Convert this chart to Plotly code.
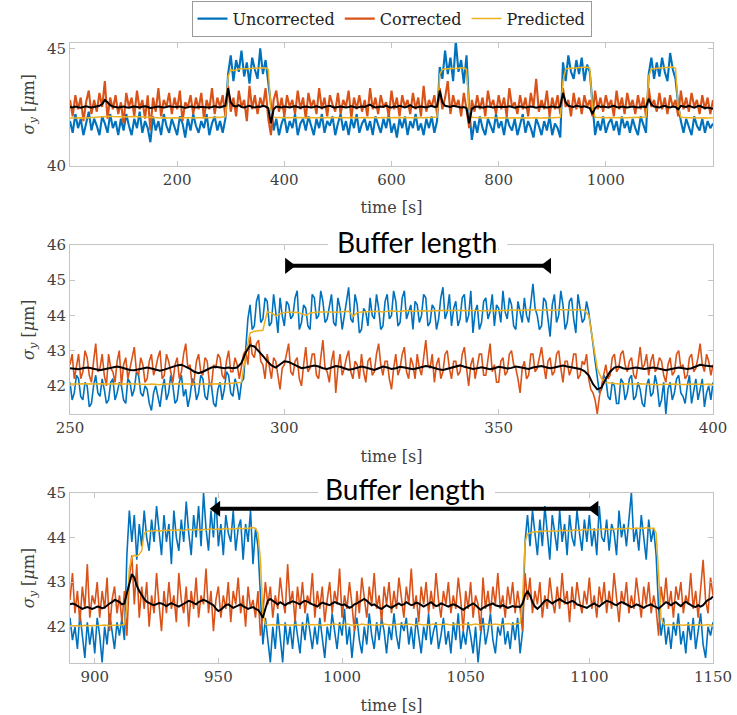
import plotly.graph_objects as go
from plotly.subplots import make_subplots

# ---------------- top panel (full record, 5 s samples) ----------------
t_top = list(range(0, 1201, 5))
top_uncorrected = [
    41.9, 41.4, 42.2, 41.6, 42.0, 41.3, 41.8, 42.3, 41.5, 42.0,
    41.7, 41.3, 42.1, 41.8, 41.4, 42.2, 41.6, 41.9, 41.3, 42.0,
    41.5, 42.2, 41.7, 41.3, 42.0, 41.6, 42.3, 41.4, 41.9, 41.6,
    41.0, 42.1, 41.5, 41.9, 41.3, 42.2, 41.7, 41.4, 42.0, 41.6,
    41.3, 42.1, 41.8, 41.2, 42.0, 41.5, 42.2, 41.7, 41.4, 41.9,
    41.6, 42.2, 41.3, 41.8, 42.1, 41.5, 41.9, 41.4, 42.0, 43.9,
    44.7, 43.6, 44.5, 44.0, 44.9, 43.8, 44.4, 43.5, 44.6, 44.1,
    43.7, 45.0, 43.9, 44.5, 43.6, 42.6, 41.5, 42.0, 41.3, 41.8,
    42.1, 41.4, 41.9, 41.6, 42.2, 41.3, 41.8, 42.0, 41.5, 42.1,
    41.7, 41.3, 42.0, 41.6, 42.2, 41.4, 41.9, 41.7, 42.1, 41.3,
    41.8, 42.2, 41.5, 41.9, 41.3, 42.0, 41.6, 42.2, 41.4, 41.8,
    42.0, 41.5, 41.9, 41.3, 42.1, 41.7, 41.4, 42.0, 41.6, 42.2,
    41.4, 41.8, 41.2, 42.0, 41.6, 42.1, 41.3, 41.9, 41.6, 42.2,
    41.5, 41.8, 41.3, 42.0, 41.6, 42.1, 41.4, 41.9, 44.2, 43.7,
    44.9, 43.9, 44.6, 43.6, 45.3, 44.0, 44.5, 43.5, 44.7, 42.4,
    41.1, 41.9, 41.4, 42.1, 41.6, 41.3, 42.0, 41.7, 41.4, 42.2,
    41.6, 41.9, 41.3, 42.1, 41.7, 41.5, 42.0, 41.3, 41.8, 42.2,
    41.4, 41.9, 41.6, 41.2, 42.0, 41.7, 41.3, 41.9, 41.5, 42.1,
    41.3, 41.8, 41.6, 41.2, 44.4, 43.6, 44.7, 44.0, 43.7, 44.5,
    43.9, 44.6, 43.6, 44.3, 44.0, 42.5, 41.3, 41.9, 41.5, 42.1,
    41.4, 41.8, 42.0, 41.5, 41.9, 41.3, 42.1, 41.6, 41.9, 41.4,
    42.0, 41.6, 41.3, 42.1, 41.7, 41.4, 43.9, 44.6, 43.7, 44.4,
    43.8, 44.6, 44.0, 43.6, 44.8, 44.1, 43.7, 42.6, 41.9, 41.4,
    42.0, 41.6, 41.3, 42.1, 41.7, 41.5, 42.0, 41.4, 41.9, 41.6,
    41.8]
top_corrected = [
    42.8, 42.1, 43.0, 42.4, 42.9, 41.9, 42.7, 43.2, 42.2, 42.8,
    42.3, 43.1, 42.5, 43.6, 42.0, 42.9, 42.4, 43.0, 42.2, 42.7,
    41.8, 43.1, 42.5, 42.9, 42.1, 43.2, 42.4, 42.8, 42.0, 43.0,
    41.5, 42.9, 42.3, 43.3, 42.1, 42.8, 42.5, 43.1, 42.2, 42.9,
    42.4, 43.2, 41.9, 42.7, 42.5, 43.0, 42.2, 42.9, 42.4, 43.1,
    42.0, 42.8, 42.4, 43.3, 42.2, 42.9, 42.5, 43.0, 42.1, 43.4,
    42.3, 42.9, 42.1, 43.2, 42.5, 42.8, 41.9, 43.4, 42.4, 43.0,
    42.2, 42.9, 42.5, 43.3, 42.0, 41.3, 42.8, 43.2, 42.3, 42.9,
    42.1, 43.0, 42.5, 42.8, 42.2, 43.2, 42.4, 42.9, 42.0, 43.1,
    42.5, 42.8, 42.2, 43.3, 42.4, 42.9, 42.1, 43.0, 42.6, 42.3,
    43.1, 42.2, 42.8, 42.5, 43.2, 42.0, 42.9, 42.4, 43.0, 42.3,
    42.8, 42.1, 43.3, 42.4, 42.9, 42.2, 43.0, 42.5, 42.7, 42.1,
    43.2, 42.4, 42.9, 42.1, 43.0, 42.5, 42.8, 42.2, 43.1, 42.4,
    42.9, 42.1, 43.4, 42.3, 42.8, 42.5, 43.0, 42.2, 43.3, 42.4,
    42.9, 43.6, 42.2, 43.0, 42.5, 42.8, 42.1, 43.1, 42.4, 41.6,
    42.8, 42.3, 43.0, 42.4, 42.9, 42.1, 43.2, 42.5, 42.8, 42.2,
    43.0, 42.4, 42.9, 42.1, 43.3, 42.5, 42.7, 42.2, 43.0, 42.4,
    42.9, 42.1, 43.1, 42.5, 43.7, 42.3, 42.8, 42.4, 43.2, 42.1,
    42.9, 42.4, 43.0, 42.2, 43.3, 42.5, 42.8, 42.1, 43.1, 42.4,
    42.9, 42.2, 43.0, 42.5, 42.8, 42.1, 43.2, 42.4, 42.9, 42.3,
    43.0, 42.5, 42.8, 42.1, 43.2, 42.4, 42.9, 42.2, 43.1, 42.5,
    42.8, 42.2, 43.0, 42.4, 42.9, 42.1, 43.3, 42.5, 42.8, 42.3,
    43.1, 42.4, 42.9, 42.2, 43.0, 42.5, 42.8, 42.1, 43.2, 42.4,
    42.9, 42.3, 43.1, 42.5, 42.8, 42.2, 43.0, 42.4, 42.9, 42.2,
    42.8]
top_predicted = [
    42.03, 42.02, 42.03, 42.04, 42.03, 42.02, 42.03, 42.04, 42.05, 42.04,
    42.05, 42.06, 42.07, 42.08, 42.09, 42.10, 42.09, 42.08, 42.07, 42.06,
    42.06, 42.07, 42.08, 42.09, 42.10, 42.09, 42.08, 42.07, 42.06, 42.05,
    42.04, 42.04, 42.03, 42.04, 42.03, 42.04, 42.03, 42.02, 42.03, 42.04,
    42.03, 42.04, 42.03, 42.04, 42.05, 42.04, 42.03, 42.04, 42.03, 42.04,
    42.05, 42.04, 42.05, 42.04, 42.05, 42.06, 42.05, 42.06, 42.10, 43.80,
    44.10, 44.05, 44.10, 44.12, 44.13, 44.12, 44.14, 44.13, 44.15, 44.14,
    44.15, 44.16, 44.15, 44.17, 44.10, 42.40, 42.06, 42.05, 42.04, 42.05,
    42.04, 42.05, 42.04, 42.03, 42.04, 42.05, 42.04, 42.03, 42.04, 42.05,
    42.04, 42.03, 42.04, 42.05, 42.04, 42.03, 42.04, 42.05, 42.04, 42.03,
    42.04, 42.05, 42.04, 42.03, 42.04, 42.05, 42.04, 42.03, 42.04, 42.05,
    42.04, 42.03, 42.04, 42.05, 42.04, 42.03, 42.04, 42.05, 42.04, 42.03,
    42.04, 42.05, 42.04, 42.03, 42.04, 42.05, 42.04, 42.03, 42.04, 42.05,
    42.04, 42.03, 42.04, 42.05, 42.04, 42.05, 42.06, 42.07, 43.90, 44.10,
    44.12, 44.14, 44.13, 44.15, 44.14, 44.16, 44.15, 44.17, 44.10, 42.40,
    42.06, 42.05, 42.04, 42.05, 42.04, 42.03, 42.04, 42.05, 42.04, 42.03,
    42.04, 42.05, 42.04, 42.03, 42.04, 42.05, 42.04, 42.03, 42.04, 42.05,
    42.04, 42.03, 42.04, 42.05, 42.04, 42.03, 42.04, 42.05, 42.04, 42.03,
    42.04, 42.05, 42.04, 42.06, 43.60, 44.12, 44.14, 44.15, 44.16, 44.17,
    44.18, 44.19, 44.20, 44.20, 44.15, 42.50, 42.06, 42.05, 42.04, 42.05,
    42.04, 42.05, 42.04, 42.05, 42.04, 42.05, 42.04, 42.05, 42.04, 42.05,
    42.06, 42.05, 42.06, 42.05, 42.06, 42.07, 43.80, 44.12, 44.14, 44.15,
    44.16, 44.17, 44.18, 44.19, 44.20, 44.20, 44.15, 42.50, 42.06, 42.04,
    42.05, 42.04, 42.05, 42.04, 42.03, 42.04, 42.05, 42.04, 42.03, 42.04,
    42.04]
top_mean = [
    42.50, 42.48, 42.52, 42.50, 42.47, 42.50, 42.53, 42.50, 42.48, 42.50,
    42.52, 42.55, 42.62, 42.80, 42.70, 42.58, 42.52, 42.50, 42.48, 42.50,
    42.52, 42.49, 42.47, 42.50, 42.52, 42.50, 42.48, 42.51, 42.53, 42.50,
    42.46, 42.48, 42.50, 42.52, 42.50, 42.48, 42.50, 42.53, 42.51, 42.49,
    42.50, 42.52, 42.50, 42.47, 42.49, 42.52, 42.50, 42.48, 42.51, 42.50,
    42.52, 42.50, 42.48, 42.50, 42.53, 42.50, 42.48, 42.52, 42.55, 43.30,
    42.70, 42.55, 42.52, 42.58, 42.50, 42.48, 42.52, 42.55, 42.50, 42.48,
    42.52, 42.50, 42.55, 42.52, 42.45, 41.80, 42.40, 42.52, 42.50, 42.48,
    42.52, 42.50, 42.48, 42.51, 42.53, 42.50, 42.47, 42.50, 42.52, 42.50,
    42.48, 42.50, 42.53, 42.50, 42.47, 42.50, 42.52, 42.55, 42.50, 42.48,
    42.50, 42.52, 42.50, 42.48, 42.50, 42.53, 42.50, 42.47, 42.50, 42.52,
    42.50, 42.55, 42.60, 42.52, 42.48, 42.50, 42.52, 42.50, 42.56, 42.50,
    42.48, 42.52, 42.50, 42.55, 42.50, 42.48, 42.52, 42.58, 42.50, 42.47,
    42.50, 42.52, 42.50, 42.48, 42.52, 42.55, 42.50, 42.52, 43.20, 42.70,
    42.55, 42.52, 42.50, 42.55, 42.52, 42.50, 42.48, 42.50, 42.45, 41.80,
    42.42, 42.50, 42.52, 42.50, 42.48, 42.50, 42.52, 42.50, 42.48, 42.51,
    42.50, 42.52, 42.48, 42.50, 42.53, 42.50, 42.47, 42.50, 42.52, 42.50,
    42.48, 42.50, 42.52, 42.50, 42.47, 42.50, 42.52, 42.50, 42.48, 42.50,
    42.52, 42.50, 42.48, 42.52, 43.10, 42.70, 42.55, 42.52, 42.50, 42.55,
    42.52, 42.50, 42.53, 42.50, 42.45, 42.20, 42.45, 42.55, 42.50, 42.52,
    42.50, 42.48, 42.52, 42.55, 42.50, 42.48, 42.52, 42.50, 42.48, 42.50,
    42.52, 42.50, 42.48, 42.50, 42.52, 42.50, 42.85, 42.60, 42.52, 42.50,
    42.48, 42.52, 42.55, 42.50, 42.48, 42.52, 42.50, 42.40, 42.55, 42.52,
    42.50, 42.55, 42.50, 42.47, 42.52, 42.55, 42.50, 42.45, 42.48, 42.45,
    42.42]

# ---------------- middle panel (250-400 s) ----------------
# raw signals at 0.5 s, prediction and running mean at 1 s
t_mid_fine = [250 + 0.5 * k for k in range(301)]
t_mid = list(range(250, 401))
mid_uncorrected = [
    42.1, 41.6, 41.8, 42.3, 42.2, 41.7, 41.6, 42.1, 42.0, 41.4,
    41.5, 42.0, 42.3, 41.8, 41.7, 42.2, 41.9, 41.5, 41.6, 42.1,
    42.2, 41.6, 41.8, 42.1, 42.0, 41.6, 41.5, 42.2, 42.1, 41.7,
    41.9, 42.4, 42.3, 41.8, 41.7, 42.0, 41.9, 41.5, 41.3, 41.8,
    42.0, 41.7, 41.4, 41.9, 42.2, 41.6, 41.8, 42.3, 42.0, 41.5,
    41.6, 42.1, 42.3, 41.7, 41.9, 41.4, 41.7, 42.2, 42.1, 41.6,
    41.8, 42.3, 42.2, 41.7, 41.6, 42.1, 42.0, 41.5, 41.4, 41.9,
    42.1, 41.6, 41.9, 42.4, 42.3, 41.8, 41.7, 42.2, 42.0, 41.6,
    42.1, 42.2, 43.2, 43.9, 44.3, 43.6, 43.7, 44.4, 44.6, 43.8,
    43.9, 44.5, 44.4, 43.7, 43.8, 44.6, 44.1, 43.5, 44.5, 44.0,
    43.7, 44.4, 44.3, 43.9, 44.0, 44.5, 44.7, 43.6, 43.8, 44.3,
    44.2, 43.7, 43.6, 44.6, 44.5, 43.9, 44.0, 44.7, 44.4, 43.8,
    43.9, 44.3, 44.6, 43.8, 43.7, 44.5, 44.2, 43.6, 44.0, 44.4,
    44.8, 43.9, 43.8, 44.6, 44.3, 43.5, 43.6, 44.2, 44.1, 43.7,
    44.5, 44.0, 43.9, 44.6, 44.2, 43.6, 43.7, 44.4, 44.6, 43.9,
    44.0, 44.7, 44.4, 43.7, 43.8, 44.5, 44.7, 43.9, 44.1, 44.3,
    43.6, 44.4, 44.3, 43.8, 44.0, 44.6, 44.5, 43.7, 43.8, 44.3,
    44.2, 43.6, 43.9, 44.5, 44.8, 43.9, 44.1, 44.6, 43.7, 44.2,
    44.4, 43.7, 43.9, 44.5, 44.6, 43.8, 44.0, 44.7, 43.5, 44.1,
    44.3, 43.6, 43.8, 44.4, 44.5, 43.9, 44.1, 44.6, 43.7, 44.3,
    44.2, 43.8, 44.7, 44.1, 43.9, 44.5, 44.3, 43.7, 43.6, 44.4,
    44.1, 43.8, 44.5, 44.0, 43.8, 44.4, 44.9, 44.2, 44.0, 43.6,
    43.7, 44.5, 44.4, 43.9, 43.4, 44.3, 44.6, 43.8, 44.0, 44.7,
    44.3, 43.6, 43.8, 44.4, 44.5, 43.9, 43.5, 44.6, 44.2, 43.8,
    43.9, 44.4, 44.1, 43.7, 43.2, 42.7, 42.3, 41.8, 41.9, 42.3,
    42.2, 41.7, 41.6, 42.1, 42.0, 41.5, 41.5, 42.2, 42.1, 41.6,
    41.8, 42.2, 42.3, 41.6, 41.7, 42.1, 41.9, 41.5, 41.4, 42.0,
    42.2, 41.7, 41.8, 42.3, 42.0, 41.4, 41.6, 42.1, 41.2, 41.9,
    42.1, 41.6, 41.8, 42.2, 42.3, 41.8, 41.7, 41.5, 42.0, 42.3,
    41.5, 41.9, 42.2, 41.6, 41.9, 42.2, 41.4, 41.8, 42.0, 41.6,
    42.1]
mid_corrected = [
    42.6, 42.9, 42.2, 42.5, 42.9, 42.2, 42.4, 43.0, 42.8, 42.3,
    42.1, 42.7, 43.2, 42.4, 42.5, 42.9, 42.3, 42.0, 42.9, 42.5,
    42.4, 42.1, 42.7, 43.0, 42.0, 42.6, 42.8, 42.2, 42.5, 42.9,
    43.1, 42.4, 42.3, 42.8, 42.6, 42.1, 42.2, 42.7, 42.9, 42.3,
    42.5, 42.8, 43.0, 42.2, 42.3, 42.9, 42.7, 42.4, 42.1, 42.6,
    42.8, 42.2, 42.4, 42.9, 43.2, 42.5, 42.6, 42.0, 42.2, 42.7,
    42.9, 42.4, 42.3, 42.8, 42.7, 42.1, 42.0, 42.6, 42.5, 42.9,
    42.8, 42.3, 42.2, 42.7, 43.0, 42.4, 42.4, 42.8, 42.6, 42.2,
    42.5, 42.9, 43.0, 42.6, 43.4, 42.9, 42.8, 43.2, 43.3, 42.7,
    42.6, 42.2, 42.9, 42.5, 42.2, 42.8, 42.7, 42.3, 41.9, 42.5,
    42.6, 42.9, 43.2, 42.4, 42.3, 42.7, 42.8, 42.2, 42.0, 42.6,
    43.1, 42.4, 42.5, 42.9, 42.9, 42.3, 42.2, 42.8, 43.3, 42.5,
    42.4, 42.1, 42.7, 43.0, 41.8, 42.5, 42.9, 42.3, 42.5, 42.8,
    43.0, 42.4, 42.2, 42.7, 42.6, 42.2, 42.9, 42.4, 42.1, 42.7,
    42.8, 42.3, 42.4, 42.9, 43.2, 42.6, 42.3, 42.7, 42.7, 42.2,
    41.9, 42.5, 42.9, 42.3, 42.5, 42.9, 43.1, 42.4, 42.2, 42.8,
    42.6, 42.2, 42.9, 42.5, 42.3, 42.8, 43.3, 42.6, 42.5, 42.9,
    42.1, 42.6, 42.8, 42.2, 42.4, 42.9, 43.0, 42.5, 42.2, 42.7,
    42.7, 42.3, 42.4, 42.9, 43.1, 42.5, 42.0, 42.6, 42.8, 42.2,
    42.5, 42.9, 42.9, 42.3, 42.3, 42.8, 43.2, 42.4, 42.6, 42.1,
    42.1, 42.7, 42.8, 42.3, 42.4, 42.9, 43.0, 42.6, 42.5, 42.2,
    41.8, 42.5, 42.7, 42.2, 42.3, 42.9, 42.9, 42.4, 42.5, 42.8,
    43.1, 42.6, 42.2, 42.7, 42.8, 42.3, 42.4, 42.9, 43.0, 42.5,
    42.1, 42.7, 42.7, 42.3, 42.5, 42.9, 42.9, 42.2, 42.3, 42.7,
    42.6, 42.9, 42.2, 41.9, 41.8, 41.6, 41.2, 41.7, 42.0, 42.4,
    42.6, 42.2, 42.3, 42.8, 42.9, 42.4, 42.5, 42.9, 43.0, 42.6,
    42.4, 42.7, 42.8, 42.3, 42.2, 42.6, 43.1, 42.5, 42.6, 42.9,
    42.3, 42.7, 42.9, 42.4, 42.5, 42.8, 42.7, 42.3, 42.1, 42.6,
    42.8, 42.3, 42.4, 42.9, 43.0, 42.5, 42.6, 42.2, 42.3, 42.8,
    42.9, 42.4, 42.5, 42.8, 43.2, 42.6, 42.4, 42.9, 42.7, 42.3,
    42.6]
mid_predicted = [
    42.05, 42.04, 42.05, 42.06, 42.05, 42.04, 42.05, 42.06, 42.05, 42.05,
    42.06, 42.05, 42.04, 42.05, 42.06, 42.05, 42.04, 42.03, 42.04, 42.05,
    42.04, 42.03, 42.05, 42.04, 42.05, 42.06, 42.05, 42.04, 42.05, 42.05,
    42.06, 42.05, 42.05, 42.06, 42.05, 42.06, 42.05, 42.06, 42.07, 42.08,
    42.10, 42.90, 43.50, 43.55, 43.56, 43.58, 44.10, 44.08, 43.98, 44.05,
    44.08, 44.10, 44.08, 44.09, 44.05, 44.00, 44.07, 44.09, 44.10, 44.10,
    44.11, 44.10, 44.09, 44.10, 44.11, 44.12, 43.98, 44.08, 44.10, 44.11,
    44.12, 44.11, 44.12, 44.10, 44.12, 44.13, 44.12, 44.11, 44.13, 44.14,
    44.12, 44.13, 44.14, 44.13, 44.12, 44.14, 44.13, 44.15, 44.14, 44.13,
    44.14, 44.15, 44.13, 44.14, 44.15, 44.14, 44.13, 44.14, 44.15, 44.14,
    44.13, 44.15, 44.14, 44.16, 44.15, 44.14, 44.15, 44.16, 44.15, 44.14,
    44.15, 44.16, 44.15, 44.14, 44.16, 44.17, 44.16, 44.15, 44.17, 44.16,
    44.15, 44.00, 43.30, 42.50, 42.20, 42.10, 42.08, 42.06, 42.05, 42.06,
    42.05, 42.04, 42.05, 42.06, 42.05, 42.04, 42.05, 42.03, 42.04, 42.05,
    42.06, 42.05, 42.04, 42.03, 42.04, 42.05, 42.04, 42.03, 42.04, 42.05,
    42.04]
mid_mean = [
    42.50, 42.48, 42.47, 42.50, 42.52, 42.50, 42.46, 42.44, 42.47, 42.50,
    42.53, 42.55, 42.52, 42.48, 42.45, 42.44, 42.47, 42.50, 42.52, 42.49,
    42.45, 42.43, 42.46, 42.50, 42.55, 42.58, 42.60, 42.55, 42.48, 42.40,
    42.36, 42.40, 42.47, 42.52, 42.54, 42.52, 42.50, 42.52, 42.50, 42.52,
    42.65, 42.95, 43.15, 43.12, 43.00, 42.85, 42.70, 42.58, 42.52, 42.62,
    42.70, 42.68, 42.62, 42.55, 42.50, 42.52, 42.56, 42.58, 42.55, 42.50,
    42.48, 42.52, 42.56, 42.54, 42.50, 42.46, 42.48, 42.52, 42.55, 42.52,
    42.48, 42.45, 42.50, 42.55, 42.52, 42.48, 42.50, 42.54, 42.52, 42.49,
    42.47, 42.50, 42.53, 42.56, 42.54, 42.50, 42.47, 42.45, 42.48, 42.52,
    42.55, 42.58, 42.54, 42.50, 42.48, 42.50, 42.53, 42.50, 42.47, 42.50,
    42.54, 42.52, 42.49, 42.51, 42.55, 42.53, 42.50, 42.48, 42.52, 42.55,
    42.56, 42.53, 42.50, 42.52, 42.55, 42.58, 42.55, 42.52, 42.50, 42.48,
    42.42, 42.30, 42.05, 41.90, 41.95, 42.20, 42.40, 42.52, 42.55, 42.50,
    42.48, 42.50, 42.52, 42.50, 42.48, 42.50, 42.52, 42.50, 42.46, 42.44,
    42.47, 42.50, 42.52, 42.50, 42.48, 42.50, 42.55, 42.60, 42.58, 42.56,
    42.55]

# ---------------- bottom panel (890-1150 s, 1 s samples) ----------------
t_bot = list(range(890, 1151))
bot_uncorrected = [
    42.2, 41.7, 42.0, 41.5, 42.3, 41.8, 41.3, 42.1, 41.6, 42.0,
    41.4, 42.2, 41.8, 41.2, 42.0, 41.6, 42.3, 41.9, 41.5, 42.1,
    41.8, 42.2, 41.7, 43.6, 44.6, 43.9, 44.5, 43.5, 44.3, 43.8,
    44.6, 44.0, 43.7, 44.4, 43.9, 44.7, 44.1, 43.6, 44.5, 43.9,
    44.3, 43.4, 44.6, 44.0, 43.7, 44.4, 43.9, 44.8, 44.1, 43.6,
    44.5, 44.0, 44.7, 43.8, 45.0, 44.2, 43.7, 44.6, 44.0, 44.9,
    43.8, 44.3, 43.6, 44.5, 44.1, 43.9, 44.6, 43.7, 44.2, 44.4,
    43.5, 44.3, 43.9, 44.6, 43.4, 44.2, 43.8, 42.6, 41.6, 42.2,
    41.7, 41.2, 42.0, 41.5, 42.3, 41.8, 41.2, 42.1, 41.6, 42.0,
    41.5, 42.2, 41.8, 41.4, 42.1, 41.7, 42.3, 41.9, 41.5, 42.0,
    41.6, 42.2, 41.8, 41.3, 42.0, 41.7, 42.3, 41.9, 41.5, 42.1,
    41.8, 42.4, 41.6, 42.0, 41.3, 41.9, 42.2, 41.7, 41.4, 42.0,
    41.6, 42.3, 41.8, 41.5, 42.1, 41.7, 42.2, 41.9, 41.4, 42.0,
    41.7, 42.3, 41.8, 41.5, 42.1, 41.9, 42.2, 41.6, 42.0, 41.5,
    42.2, 41.8, 41.4, 42.0, 41.7, 42.3, 41.6, 41.9, 42.1, 41.5,
    41.8, 42.2, 41.6, 41.9, 41.4, 42.1, 41.7, 42.3, 41.5, 41.9,
    41.6, 42.1, 41.8, 41.4, 42.0, 41.2, 41.8, 42.2, 41.6, 41.9,
    42.3, 41.7, 41.4, 42.0, 41.8, 42.2, 41.6, 41.9, 41.5, 42.1,
    41.7, 42.2, 41.4, 41.9, 43.9, 44.5, 43.8, 44.6, 44.1, 43.6,
    44.4, 43.8, 44.7, 44.0, 43.5, 44.5, 44.1, 43.7, 44.6, 43.9,
    44.3, 43.6, 44.5, 44.0, 43.8, 44.6, 44.1, 43.7, 44.4, 43.9,
    44.5, 43.8, 44.2, 43.6, 44.7, 44.0, 43.9, 44.4, 43.7, 44.3,
    44.1, 43.6, 44.6, 44.0, 44.3, 43.8, 44.4, 45.0, 43.9, 44.2,
    43.7, 44.5, 44.0, 43.5, 44.4, 43.9, 44.2, 43.6, 42.4, 41.8,
    42.2, 41.6, 42.0, 41.5, 42.1, 41.8, 42.3, 41.6, 41.9, 41.4,
    42.1, 41.7, 42.2, 41.5, 41.9, 42.3, 41.6, 41.3, 42.0, 41.8,
    42.1]
bot_corrected = [
    42.6, 43.2, 42.3, 42.8, 42.1, 42.9, 42.4, 43.4, 42.2, 42.7,
    42.5, 43.0, 42.2, 42.8, 42.4, 43.1, 41.9, 42.6, 42.9, 42.3,
    42.7, 42.1, 42.8, 41.8, 43.1, 43.6, 42.5, 43.4, 42.2, 42.9,
    42.4, 43.0, 42.0, 42.7, 42.3, 43.2, 42.5, 41.9, 42.8, 42.3,
    43.0, 42.4, 42.7, 42.1, 43.2, 42.6, 42.3, 42.9, 42.0, 42.8,
    42.4, 43.1, 42.2, 42.7, 42.5, 43.3, 42.3, 42.8, 41.9, 42.6,
    42.9, 42.2, 42.7, 42.4, 43.0, 42.1, 42.8, 42.5, 43.1, 42.3,
    42.7, 42.0, 42.9, 42.4, 42.6, 42.2, 42.8, 41.8, 42.3, 43.0,
    42.5, 42.9, 42.2, 42.7, 42.4, 43.1, 42.6, 42.3, 43.4, 42.5,
    42.8, 42.1, 42.9, 42.4, 43.0, 42.3, 42.7, 42.5, 43.2, 42.2,
    42.8, 42.4, 42.9, 42.1, 42.6, 43.0, 42.3, 42.8, 42.5, 43.3,
    42.2, 42.7, 42.4, 43.0, 42.5, 41.9, 42.8, 42.3, 43.1, 42.6,
    42.2, 42.9, 42.5, 43.2, 42.4, 42.7, 42.1, 42.9, 42.5, 43.0,
    42.3, 42.8, 42.4, 43.1, 42.6, 42.2, 42.9, 42.5, 43.3, 42.4,
    42.7, 42.1, 42.9, 42.5, 43.0, 42.3, 42.8, 42.4, 43.2, 42.6,
    42.2, 42.8, 42.5, 43.0, 42.3, 42.7, 42.4, 43.1, 42.6, 41.9,
    42.8, 42.4, 43.0, 42.2, 42.7, 42.5, 41.9, 43.1, 42.4, 42.8,
    42.3, 42.9, 42.5, 43.2, 42.4, 42.7, 42.2, 42.9, 42.5, 43.0,
    42.3, 42.8, 42.4, 41.9, 43.2, 42.6, 43.1, 42.3, 42.8, 42.5,
    43.0, 42.2, 42.7, 42.4, 43.1, 42.6, 42.3, 42.9, 42.4, 43.2,
    42.5, 42.8, 42.1, 42.9, 42.4, 43.0, 42.6, 42.3, 42.8, 42.5,
    43.1, 42.4, 42.7, 42.2, 42.9, 42.5, 43.0, 42.3, 42.8, 42.4,
    43.2, 42.6, 42.1, 42.8, 42.5, 43.0, 42.3, 42.7, 42.4, 43.1,
    42.6, 42.2, 42.9, 42.5, 43.0, 42.3, 42.7, 42.4, 41.8, 42.9,
    42.5, 43.1, 42.4, 42.8, 42.2, 42.9, 42.6, 43.0, 42.3, 42.7,
    42.5, 43.2, 42.4, 42.8, 42.2, 42.9, 43.5, 42.6, 42.3, 43.1,
    42.7]
bot_predicted = [
    42.02, 42.02, 42.03, 42.02, 42.01, 42.02, 42.03, 42.02, 42.02, 42.03,
    42.02, 42.03, 42.02, 42.03, 42.04, 42.03, 42.02, 42.03, 42.03, 42.04,
    42.03, 42.04, 42.05, 42.40, 43.30, 43.55, 43.60, 43.58, 43.62, 43.70,
    44.10, 44.12, 44.15, 44.14, 44.15, 44.16, 44.14, 44.15, 44.16, 44.15,
    44.16, 44.17, 44.15, 44.16, 44.17, 44.16, 44.15, 44.17, 44.18, 44.17,
    44.16, 44.18, 44.17, 44.16, 44.18, 44.17, 44.18, 44.19, 44.17, 44.18,
    44.19, 44.18, 44.19, 44.20, 44.19, 44.18, 44.20, 44.19, 44.21, 44.20,
    44.19, 44.21, 44.20, 44.21, 44.22, 44.20, 44.10, 43.50, 42.30, 42.05,
    42.03, 42.04, 42.05, 42.04, 42.03, 42.05, 42.04, 42.05, 42.04, 42.03,
    42.04, 42.05, 42.04, 42.03, 42.04, 42.05, 42.06, 42.04, 42.05, 42.04,
    42.05, 42.04, 42.03, 42.04, 42.05, 42.04, 42.05, 42.06, 42.05, 42.04,
    42.04, 42.05, 42.06, 42.05, 42.03, 42.04, 42.05, 42.04, 42.06, 42.05,
    42.04, 42.05, 42.04, 42.03, 42.05, 42.04, 42.05, 42.06, 42.05, 42.04,
    42.05, 42.04, 42.05, 42.06, 42.05, 42.04, 42.05, 42.06, 42.05, 42.04,
    42.05, 42.06, 42.05, 42.04, 42.05, 42.04, 42.05, 42.06, 42.05, 42.05,
    42.04, 42.05, 42.06, 42.05, 42.04, 42.05, 42.06, 42.05, 42.04, 42.05,
    42.06, 42.05, 42.04, 42.05, 42.06, 42.05, 42.04, 42.05, 42.06, 42.05,
    42.04, 42.05, 42.06, 42.05, 42.04, 42.05, 42.06, 42.07, 42.06, 42.05,
    42.06, 42.07, 42.08, 42.60, 43.90, 44.08, 44.10, 44.12, 44.13, 44.12,
    44.14, 44.13, 44.15, 44.14, 44.13, 44.15, 44.14, 44.13, 44.15, 44.16,
    44.15, 44.16, 44.14, 44.15, 44.17, 44.16, 44.15, 44.17, 44.18, 44.16,
    44.17, 44.18, 44.16, 44.17, 44.18, 44.17, 44.19, 44.18, 44.17, 44.19,
    44.18, 44.19, 44.20, 44.18, 44.19, 44.20, 44.21, 44.19, 44.20, 44.21,
    44.20, 44.21, 44.20, 44.22, 44.21, 44.20, 44.21, 44.10, 43.20, 42.20,
    42.06, 42.04, 42.05, 42.04, 42.03, 42.04, 42.05, 42.04, 42.03, 42.04,
    42.05, 42.04, 42.03, 42.04, 42.05, 42.04, 42.03, 42.04, 42.05, 42.04,
    42.03]
bot_mean = [
    42.50, 42.52, 42.50, 42.46, 42.42, 42.40, 42.42, 42.44, 42.42, 42.40,
    42.42, 42.45, 42.44, 42.41, 42.43, 42.48, 42.52, 42.55, 42.60, 42.58,
    42.55, 42.50, 42.52, 42.75, 43.00, 43.18, 43.10, 42.92, 42.80, 42.70,
    42.62, 42.56, 42.52, 42.50, 42.48, 42.50, 42.53, 42.52, 42.48, 42.46,
    42.50, 42.53, 42.50, 42.47, 42.45, 42.48, 42.52, 42.55, 42.58, 42.56,
    42.52, 42.50, 42.55, 42.58, 42.60, 42.58, 42.55, 42.52, 42.48, 42.40,
    42.35, 42.38, 42.44, 42.48, 42.50, 42.46, 42.42, 42.45, 42.48, 42.50,
    42.46, 42.42, 42.40, 42.42, 42.44, 42.40, 42.38, 42.30, 42.20, 42.40,
    42.58, 42.62, 42.58, 42.52, 42.50, 42.55, 42.52, 42.48, 42.52, 42.55,
    42.57, 42.55, 42.52, 42.50, 42.55, 42.58, 42.56, 42.52, 42.50, 42.48,
    42.45, 42.50, 42.54, 42.52, 42.50, 42.48, 42.52, 42.55, 42.53, 42.50,
    42.48, 42.50, 42.46, 42.42, 42.45, 42.50, 42.52, 42.55, 42.58, 42.62,
    42.58, 42.52, 42.48, 42.50, 42.45, 42.42, 42.40, 42.44, 42.48, 42.45,
    42.42, 42.46, 42.50, 42.52, 42.48, 42.50, 42.55, 42.52, 42.48, 42.50,
    42.54, 42.52, 42.48, 42.45, 42.48, 42.52, 42.55, 42.50, 42.46, 42.48,
    42.52, 42.50, 42.47, 42.45, 42.48, 42.50, 42.48, 42.44, 42.40, 42.38,
    42.42, 42.46, 42.50, 42.52, 42.48, 42.42, 42.38, 42.42, 42.46, 42.48,
    42.50, 42.52, 42.48, 42.46, 42.45, 42.48, 42.45, 42.42, 42.44, 42.46,
    42.44, 42.45, 42.44, 42.52, 42.70, 42.80, 42.70, 42.55, 42.45, 42.40,
    42.45, 42.52, 42.58, 42.60, 42.56, 42.52, 42.56, 42.60, 42.62, 42.58,
    42.54, 42.52, 42.55, 42.58, 42.55, 42.50, 42.48, 42.46, 42.44, 42.42,
    42.46, 42.50, 42.52, 42.48, 42.45, 42.50, 42.55, 42.58, 42.56, 42.54,
    42.50, 42.48, 42.52, 42.55, 42.53, 42.50, 42.46, 42.44, 42.46, 42.50,
    42.48, 42.45, 42.42, 42.46, 42.48, 42.50, 42.46, 42.44, 42.40, 42.45,
    42.50, 42.55, 42.52, 42.48, 42.52, 42.55, 42.50, 42.46, 42.52, 42.56,
    42.52, 42.48, 42.45, 42.44, 42.48, 42.45, 42.48, 42.55, 42.60, 42.62,
    42.68]

# ---------------- buffer-length markers (data coords) ----------------
buffer_mid_t = [301.0, 361.4]
buffer_mid_y = [45.41, 45.41]
buffer_bot_t = [949.3, 1102.2]
buffer_bot_y = [44.64, 44.64]

series_names = ["Uncorrected", "Corrected", "Predicted"]
C_BLUE, C_ORANGE, C_YELLOW = "#0072BD", "#D95319", "#EDB120"

panels = [
    (t_top, t_top, top_uncorrected, top_corrected, top_predicted, top_mean, 2.1),
    (t_mid_fine, t_mid, mid_uncorrected, mid_corrected, mid_predicted, mid_mean, 1.6),
    (t_bot, t_bot, bot_uncorrected, bot_corrected, bot_predicted, bot_mean, 1.6),
]

fig = make_subplots(rows=3, cols=1)
for i, (tr, ts, u, c, p, m, lw) in enumerate(panels, start=1):
    first = (i == 1)
    fig.add_trace(go.Scatter(x=tr, y=u, mode="lines", name=series_names[0],
                             line=dict(color=C_BLUE, width=lw),
                             showlegend=first, legendgroup="u"), row=i, col=1)
    fig.add_trace(go.Scatter(x=tr, y=c, mode="lines", name=series_names[1],
                             line=dict(color=C_ORANGE, width=lw),
                             showlegend=first, legendgroup="c"), row=i, col=1)
    fig.add_trace(go.Scatter(x=ts, y=p, mode="lines", name=series_names[2],
                             line=dict(color=C_YELLOW, width=1.5),
                             showlegend=first, legendgroup="p"), row=i, col=1)
    fig.add_trace(go.Scatter(x=ts, y=m, mode="lines", name="mean",
                             line=dict(color="black", width=2),
                             showlegend=False), row=i, col=1)

fig.add_trace(go.Scatter(x=buffer_mid_t, y=buffer_mid_y, mode="lines+markers",
                         line=dict(color="black", width=4),
                         marker=dict(symbol=["triangle-right", "triangle-left"],
                                     size=14, color="black"),
                         showlegend=False), row=2, col=1)
fig.add_trace(go.Scatter(x=buffer_bot_t, y=buffer_bot_y, mode="lines+markers",
                         line=dict(color="black", width=4),
                         marker=dict(symbol=["triangle-left", "triangle-left"],
                                     size=14, color="black"),
                         showlegend=False), row=3, col=1)

SERIF = "DejaVu Serif"
AXC = "#c4c4c4"
TXT = "#404040"


def xstyle(rng, ticks, standoff):
    return dict(range=rng, tickvals=ticks, showline=True, linecolor=AXC, linewidth=1,
                mirror="ticks", ticks="inside", ticklen=5, tickcolor=AXC,
                showgrid=False, zeroline=False,
                tickfont=dict(family=SERIF, size=15, color=TXT),
                title=dict(text="time [s]", font=dict(family=SERIF, size=16, color=TXT),
                           standoff=standoff))


def ystyle(rng, ticks, dom):
    return dict(range=rng, tickvals=ticks, domain=dom, showline=True, linecolor=AXC,
                linewidth=1, mirror="ticks", ticks="inside", ticklen=5, tickcolor=AXC,
                showgrid=False, zeroline=False,
                tickfont=dict(family=SERIF, size=15, color=TXT),
                title=dict(text="<i>σ</i><sub><i>y</i></sub> [<i>μ</i>m]",
                           font=dict(family=SERIF, size=16, color=TXT), standoff=8))


# white patches where the "Buffer length" labels interrupt the top frame line
gap_shapes = [
    dict(type="rect", xref="paper", yref="paper", x0=0.401, x1=0.680,
         y0=0.652, y1=0.663, fillcolor="white", line=dict(width=0), layer="above"),
    dict(type="rect", xref="paper", yref="paper", x0=0.386, x1=0.661,
         y0=0.305, y1=0.316, fillcolor="white", line=dict(width=0), layer="above"),
]

fig.update_layout(
    width=737, height=715,
    margin=dict(l=70, r=24, t=0, b=0, autoexpand=False),
    paper_bgcolor="white", plot_bgcolor="white",
    xaxis=xstyle([0, 1200], [200, 400, 600, 800, 1000], 14),
    yaxis=ystyle([40, 45.24], [40, 45], [0.7683, 0.9403]),
    xaxis2=xstyle([250, 400], [250, 300, 350, 400], 14),
    yaxis2=ystyle([41.19, 46], [42, 43, 44, 45, 46], [0.4205, 0.6573]),
    xaxis3=xstyle([890, 1150], [900, 950, 1000, 1050, 1100, 1150], 16),
    yaxis3=ystyle([41.18, 45], [42, 43, 44, 45], [0.0723, 0.3109]),
    legend=dict(orientation="h", x=0.5, xanchor="center", y=0.999, yanchor="top",
                bgcolor="white", bordercolor="#9a9a9a", borderwidth=1,
                font=dict(family=SERIF, size=16, color="#222222"),
                itemwidth=30, traceorder="normal"),
    shapes=gap_shapes,
    annotations=[
        dict(text="Buffer length", xref="paper", yref="paper", x=0.539, y=0.662,
             xanchor="center", yanchor="middle", showarrow=False,
             font=dict(family="Lato", size=28, color="black")),
        dict(text="Buffer length", xref="paper", yref="paper", x=0.521, y=0.3157,
             xanchor="center", yanchor="middle", showarrow=False,
             font=dict(family="Lato", size=28, color="black")),
    ],
)

fig.write_html("out.html")
